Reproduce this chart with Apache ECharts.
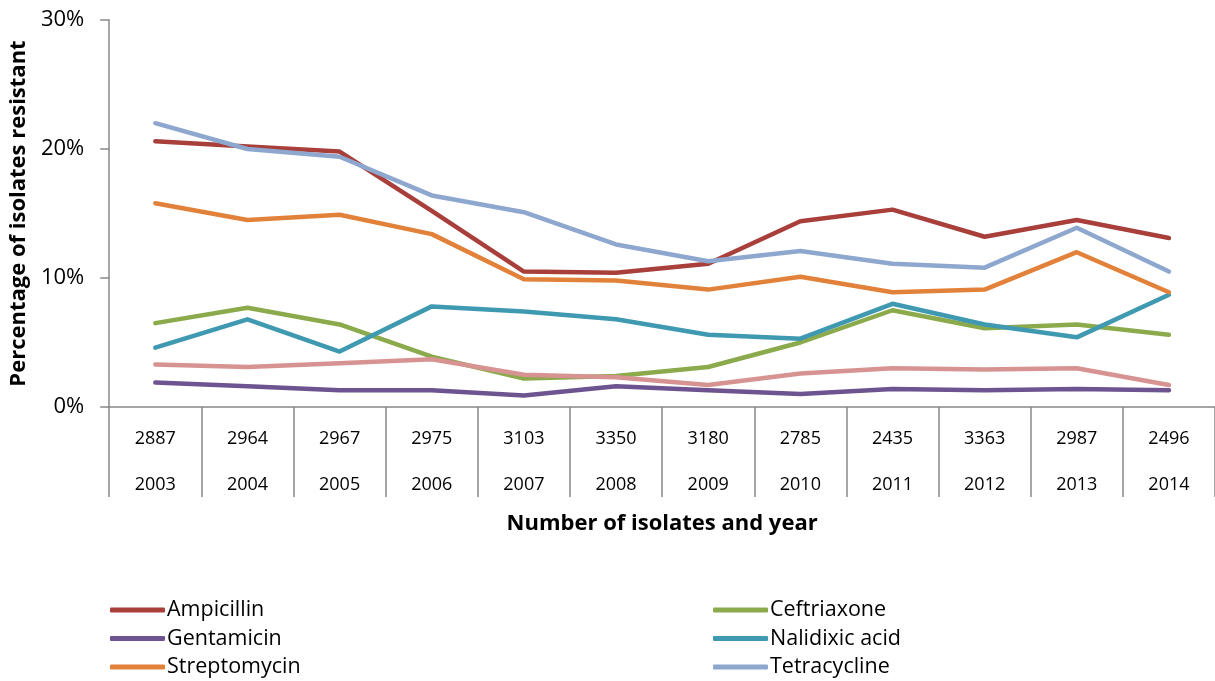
<!DOCTYPE html>
<html>
<head>
<meta charset="utf-8">
<script src="https://cdn.jsdelivr.net/npm/echarts@6/dist/echarts.min.js"></script>
<style>
    html, body { margin: 0; padding: 0; background: #fff; }
    #chart { width: 1215px; height: 681px; }
</style>
</head>
<body>
<div id="chart"></div>
<script>
// categories: year and number of isolates tested
var years = ['2003', '2004', '2005', '2006', '2007', '2008', '2009', '2010', '2011', '2012', '2013', '2014'];
var isolates = ['2887', '2964', '2967', '2975', '3103', '3350', '3180', '2785', '2435', '3363', '2987', '2496'];

// percentage resistant
var ampicillin    = [20.6, 20.2, 19.8, 15.2, 10.5, 10.4, 11.1, 14.4, 15.3, 13.2, 14.5, 13.1];
var ceftriaxone   = [6.5, 7.7, 6.4, 3.9, 2.2, 2.4, 3.1, 5.0, 7.5, 6.1, 6.4, 5.6];
var gentamicin    = [1.9, 1.6, 1.3, 1.3, 0.9, 1.6, 1.3, 1.0, 1.4, 1.3, 1.4, 1.3];
var nalidixicAcid = [4.6, 6.8, 4.3, 7.8, 7.4, 6.8, 5.6, 5.3, 8.0, 6.4, 5.4, 8.7];
var streptomycin  = [15.8, 14.5, 14.9, 13.4, 9.9, 9.8, 9.1, 10.1, 8.9, 9.1, 12.0, 8.9];
var tetracycline  = [22.0, 20.0, 19.4, 16.4, 15.1, 12.6, 11.3, 12.1, 11.1, 10.8, 13.9, 10.5];
var seventh       = [3.3, 3.1, 3.4, 3.7, 2.5, 2.3, 1.7, 2.6, 3.0, 2.9, 3.0, 1.7];

var yTicks = [0, 10, 20, 30];

var font = '"Open Sans", "Noto Sans", sans-serif';

function line(name, data, color) {
    return {
        name: name, type: 'line', data: data,
        symbol: 'none', smooth: false,
        lineStyle: {width: 4.5, color: color, cap: 'round', join: 'round'},
        itemStyle: {color: color},
        animation: false
    };
}

var legendBase = {
    orient: 'vertical',
    top: 599,
    padding: 0,
    itemWidth: 55,
    itemHeight: 5,
    itemGap: 6.5,
    icon: 'roundRect',
    selectedMode: false,
    textStyle: {fontFamily: font, fontSize: 21.5, color: '#000', lineHeight: 22, padding: [0, 0, 0, -3]}
};

var option = {
    backgroundColor: '#fff',
    grid: {left: 107, top: 20, width: 1109, height: 387, containLabel: false},
    xAxis: {
        type: 'category',
        data: years,
        boundaryGap: true,
        name: 'Number of isolates and year',
        nameLocation: 'middle',
        nameGap: 104,
        nameTextStyle: {fontFamily: font, fontSize: 22, fontWeight: 'bold', color: '#000'},
        axisLine: {lineStyle: {color: '#888', width: 1.5}},
        axisTick: {show: true, length: 90, alignWithLabel: false, lineStyle: {color: '#888', width: 1.5}},
        axisLabel: {
            margin: 9,
            interval: 0,
            fontFamily: font,
            fontSize: 18,
            color: '#000',
            lineHeight: 46,
            formatter: function (v, i) { return isolates[i] + '\n' + years[i]; }
        },
        splitLine: {show: false}
    },
    yAxis: {
        type: 'value',
        min: 0, max: 30, interval: 10,
        name: 'Percentage of isolates resistant',
        nameLocation: 'middle',
        nameGap: 70,
        nameTextStyle: {fontFamily: font, fontSize: 22, fontWeight: 'bold', color: '#000'},
        axisLine: {show: true, lineStyle: {color: '#888', width: 1.5}},
        axisTick: {show: true, length: 9, inside: false, lineStyle: {color: '#888', width: 1.5}},
        axisLabel: {
            margin: 25, fontFamily: font, fontSize: 22, color: '#000',
            formatter: function (v) { return yTicks.indexOf(v) >= 0 ? v + '%' : ''; }
        },
        splitLine: {show: false}
    },
    series: [
        line('Ampicillin', ampicillin, '#A83F3B'),
        line('Ceftriaxone', ceftriaxone, '#8BAA4B'),
        line('Gentamicin', gentamicin, '#6D5491'),
        line('Nalidixic acid', nalidixicAcid, '#3F99B0'),
        line('Streptomycin', streptomycin, '#E2823A'),
        line('Tetracycline', tetracycline, '#8EA7CE'),
        line('Other', seventh, '#D69391')
    ]
};

option.legend = [
    Object.assign({}, legendBase, {left: 110, data: ['Ampicillin', 'Gentamicin', 'Streptomycin']}),
    Object.assign({}, legendBase, {left: 713, data: ['Ceftriaxone', 'Nalidixic acid', 'Tetracycline']})
];

var myChart = echarts.init(document.getElementById('chart'), null, {renderer: 'canvas'});
myChart.setOption(option);
</script>
</body>
</html>
